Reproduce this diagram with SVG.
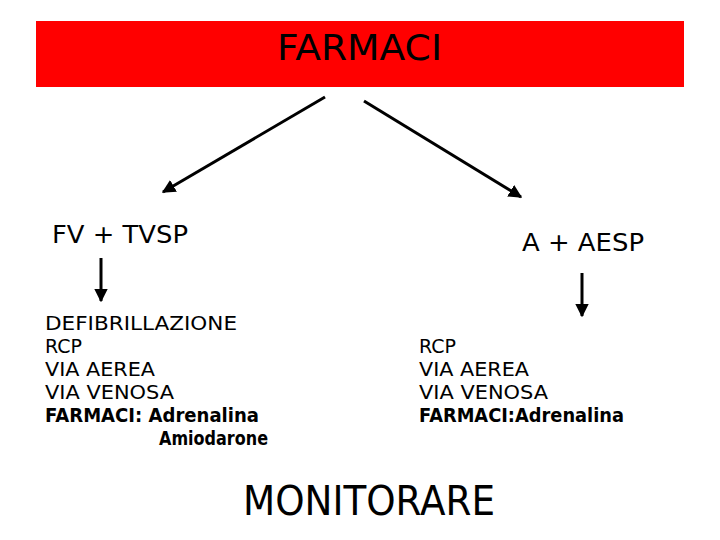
<svg xmlns="http://www.w3.org/2000/svg" width="720" height="540" viewBox="0 0 720 540">
<style>
text{font-family:"DejaVu Sans","Liberation Sans",sans-serif;fill:#000}
.h{font-size:24px}
.l{font-size:19px}
.b{font-weight:bold}
.c{stroke:#000;stroke-width:3;fill:none}
</style>
<defs>
<marker id="ah" viewBox="0 0 10 10" refX="9" refY="5" markerWidth="4.5" markerHeight="4.5" orient="auto" markerUnits="strokeWidth">
<path d="M0,0 L10,5 L0,10 z" fill="#000"/>
</marker>
</defs>
<rect width="720" height="540" fill="#fff"/>
<g id="farmaci">
<rect x="36" y="21" width="648" height="66" fill="#ff0000"/>
<text x="277" y="60" font-size="36" textLength="165" lengthAdjust="spacingAndGlyphs">FARMACI</text>
</g>
<g id="connectors">
<line class="c" x1="325" y1="97" x2="163" y2="192" marker-end="url(#ah)"/>
<line class="c" x1="364" y1="101" x2="521" y2="197" marker-end="url(#ah)"/>
<line class="c" x1="101" y1="258" x2="101" y2="301" marker-end="url(#ah)"/>
<line class="c" x1="582" y1="273" x2="582" y2="316" marker-end="url(#ah)"/>
</g>
<g id="fv-tvsp">
<text class="h" x="52" y="243" textLength="136" lengthAdjust="spacingAndGlyphs">FV + TVSP</text>
</g>
<g id="a-aesp">
<text class="h" x="522" y="251" textLength="122" lengthAdjust="spacingAndGlyphs">A + AESP</text>
</g>
<g id="left-list">
<text class="l" x="45" y="330" textLength="192" lengthAdjust="spacingAndGlyphs">DEFIBRILLAZIONE</text>
<text class="l" x="45" y="353">RCP</text>
<text class="l" x="45" y="376" textLength="110" lengthAdjust="spacingAndGlyphs">VIA AEREA</text>
<text class="l" x="45" y="399" textLength="129" lengthAdjust="spacingAndGlyphs">VIA VENOSA</text>
<text class="l b" x="45" y="422" textLength="214" lengthAdjust="spacingAndGlyphs">FARMACI: Adrenalina</text>
<text class="l b" x="159" y="445" textLength="109" lengthAdjust="spacingAndGlyphs">Amiodarone</text>
</g>
<g id="right-list">
<text class="l" x="419" y="353">RCP</text>
<text class="l" x="419" y="376" textLength="110" lengthAdjust="spacingAndGlyphs">VIA AEREA</text>
<text class="l" x="419" y="399" textLength="129" lengthAdjust="spacingAndGlyphs">VIA VENOSA</text>
<text class="l b" x="419" y="422" textLength="205" lengthAdjust="spacingAndGlyphs">FARMACI:Adrenalina</text>
</g>
<g id="monitorare">
<text x="243" y="515" font-size="40" textLength="252" lengthAdjust="spacingAndGlyphs">MONITORARE</text>
</g>
</svg>
